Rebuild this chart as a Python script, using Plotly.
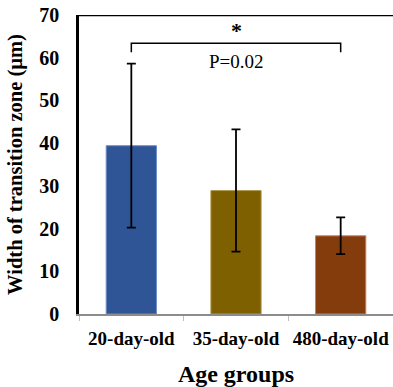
import plotly.graph_objects as go

categories = ["20-day-old", "35-day-old", "480-day-old"]
means = [39.4, 28.9, 18.3]
errors = [19.2, 14.3, 4.3]
bar_colors = ["#2F5597", "#7F6000", "#843C0C"]
edge_colors = ["#6D8CC4", "#B09A50", "#C08060"]
y_ticks = [0, 10, 20, 30, 40, 50, 60, 70]
bracket_low = 61.3
bracket_high = 63.4
star_y = 66.4
p_y = 59.2
p_text = "P=0.02"

serif = "Liberation Serif, Times New Roman, serif"

fig = go.Figure()
fig.add_trace(go.Bar(
    x=categories, y=means,
    marker=dict(color=bar_colors, line=dict(color=edge_colors, width=1)),
    width=0.48,
    error_y=dict(type="data", array=errors, visible=True, color="black",
                 thickness=1.8, width=4.5),
))

# top border line
fig.add_shape(type="line", xref="paper", yref="y", x0=0, x1=1, y0=70, y1=70,
              line=dict(color="black", width=2.5))
# significance bracket
fig.add_shape(type="path", xref="x", yref="y",
              path=f"M 0,{bracket_low} L 0,{bracket_high} L 2,{bracket_high} L 2,{bracket_low}",
              line=dict(color="black", width=1.5))
fig.add_annotation(x=1, y=star_y, xref="x", yref="y", text="<b>*</b>", showarrow=False,
                   font=dict(family=serif, size=22, color="black"))
fig.add_annotation(x=1, y=p_y, xref="x", yref="y", text=p_text, showarrow=False,
                   font=dict(family=serif, size=19, color="black"))

fig.update_layout(
    width=393, height=387,
    margin=dict(l=79, r=0, t=15, b=73, autoexpand=False),
    paper_bgcolor="white", plot_bgcolor="white",
    showlegend=False,
    font=dict(family=serif, color="black"),
)
fig.update_xaxes(
    automargin=False, tickangle=0,
    showline=True, linecolor="#8C8C8C", linewidth=1.5,
    ticks="outside", tickson="boundaries", ticklen=5, tickcolor="#BFBFBF", tickwidth=1,
    ticklabelstandoff=6,
    tickfont=dict(family=serif, size=19, color="black"),
    tickprefix="<b>", ticksuffix="</b>",
    title=dict(text="<b>Age groups</b>", font=dict(family=serif, size=24, color="black"), standoff=22),
    showgrid=False,
)
fig.update_yaxes(
    automargin=False,
    range=[0, 70], tickvals=y_ticks, ticktext=[f"<b>{v}</b>" for v in y_ticks],
    showline=True, linecolor="black", linewidth=2.5,
    ticks="", showgrid=False, zeroline=False,
    ticklabelstandoff=13,
    tickfont=dict(family=serif, size=20, color="black"),
    title=dict(text="<b>Width of transition zone (µm)</b>", font=dict(family=serif, size=20.5, color="black"), standoff=12),
)

fig.write_html("out.html")
